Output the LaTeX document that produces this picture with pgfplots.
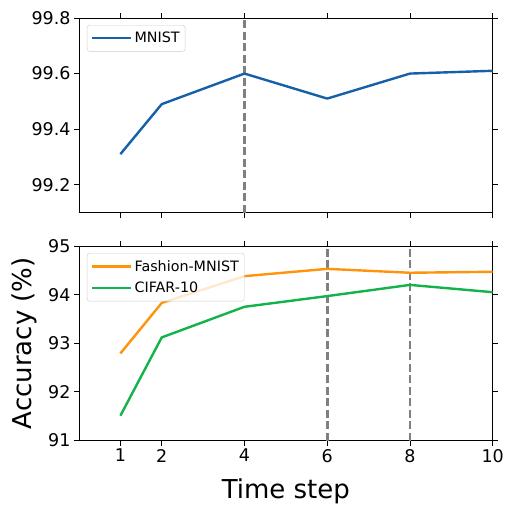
\documentclass[border=0pt]{standalone}
\usepackage{fontspec}
\setmainfont{DejaVu Sans}
\usepackage{pgfplots}
\pgfplotsset{compat=1.18}
\definecolor{cblue}{HTML}{1560A8}
\definecolor{corange}{HTML}{FF940A}
\definecolor{cgreen}{HTML}{12B34A}
\definecolor{cgray}{HTML}{808080}
\begin{document}
\begin{tikzpicture}
\pgfplotsset{
  myaxis/.style={
    scale only axis, width=413.7pt, height=194.5pt,
    xmin=0, xmax=10, xtick={1,2,4,6,8,10},
    tick align=outside, major tick length=5pt,
    tick style={black, line width=0.9pt},
    axis line style={line width=0.9pt},
    tick label style={font=\fontsize{17.5}{20}\selectfont},
    /pgf/number format/assume math mode=true,
    legend style={font=\fontsize{14.3}{17}\selectfont, draw=black!20, fill=white, fill opacity=0.8, text opacity=1, rounded corners=2.5pt, at={(axis description cs:0.0193,0.964)}, anchor=north west, row sep=5.5pt, inner xsep=3.5pt, inner ysep=5pt},
    legend cell align=left,
    legend image code/.code={\path (0pt,0pt) -- (39.5pt,0pt); \draw[##1] (0.5pt,0pt) -- (33.5pt,0pt);},
    every axis plot/.append style={line width=2.4pt, line join=round},
  }
}
\path[use as bounding box] (-79pt,18pt) rectangle (426pt,-486pt);
\begin{axis}[myaxis, at={(0,0)}, anchor=north west,
  ymin=99.1, ymax=99.8, ytick={99.2,99.4,99.6,99.8},
  yticklabel style={/pgf/number format/.cd, fixed, fixed zerofill, precision=1},
  xticklabels={}]
\addplot[cgray, line width=2.6pt, dash pattern=on 8pt off 3.5pt, forget plot] coordinates {(4,99.1) (4,99.8)};
\addplot[cblue] coordinates {(1,99.31) (2,99.49) (4,99.60) (6,99.51) (8,99.60) (10,99.61)};
\addlegendentry{MNIST}
\end{axis}
\begin{axis}[myaxis, at={(0,-228pt)}, anchor=north west,
  ymin=91, ymax=95, ytick={91,92,93,94,95},
  xlabel={Time step}, ylabel={Accuracy (\%)},
  label style={font=\fontsize{26}{30}\selectfont},
  xlabel style={at={(axis description cs:0.5,-0.297)}, anchor=base},
  ylabel style={at={(axis description cs:-0.116,0.5)}, anchor=base, rotate=0}]
\addplot[cgray, line width=2.6pt, dash pattern=on 8pt off 3.5pt, forget plot] coordinates {(6,91) (6,95)};
\addplot[cgray, line width=2.6pt, dash pattern=on 8pt off 3.5pt, forget plot] coordinates {(8,91) (8,95)};
\addplot[corange] coordinates {(1,92.79) (2,93.83) (4,94.38) (6,94.53) (8,94.45) (10,94.47)};
\addlegendentry{Fashion-MNIST}
\addplot[cgreen] coordinates {(1,91.51) (2,93.12) (4,93.75) (6,93.97) (8,94.20) (10,94.05)};
\addlegendentry{CIFAR-10}
\end{axis}
\end{tikzpicture}
\end{document}
